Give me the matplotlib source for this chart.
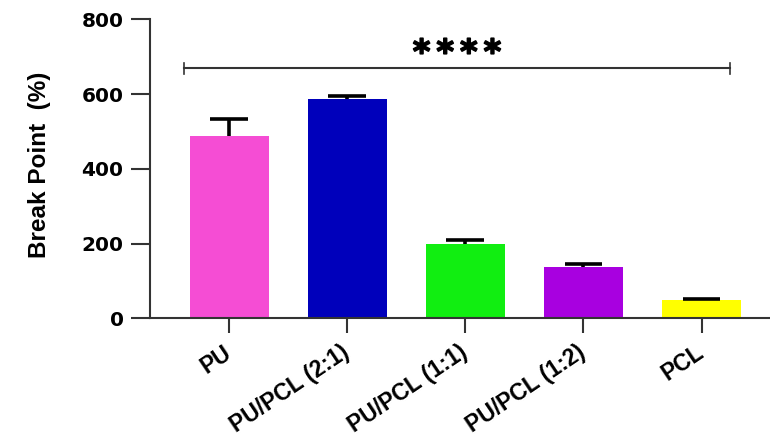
import matplotlib.pyplot as plt
import matplotlib.patheffects as pe

# data
groups = ['PU', 'PU/PCL (2:1)', 'PU/PCL (1:1)', 'PU/PCL (1:2)', 'PCL']
break_point = [488, 587, 199, 138, 49]
sd_upper = [46, 9, 11, 8, 4]
bar_colors = ['#F54DD4', '#0000BB', '#11EE11', '#A800E0', '#FFFF00']
y_ticks = [0, 200, 400, 600, 800]
sig_label = '****'
sig_level = 669

plt.rcParams['font.family'] = ['Liberation Sans', 'DejaVu Sans']

fig = plt.figure(figsize=(7.7, 4.44), dpi=100)
ax = fig.add_axes([150 / 770, 1 - 318.5 / 444, 1 - 150 / 770, 299 / 444])

x = list(range(len(groups)))
bar_w = 0.67
ax.bar(x, break_point, width=bar_w, color=bar_colors, zorder=2)

# upper-only error bars (T shape)
tops = [v + e for v, e in zip(break_point, sd_upper)]
cap = 0.32
ax.vlines(x, break_point, tops, colors='black', lw=2.6, zorder=3)
ax.hlines(tops, [xi - cap / 2 for xi in x], [xi + cap / 2 for xi in x],
          colors='black', lw=2.6, zorder=3)

# significance bracket
x0, x1 = -0.38, 4.24
ax.plot([x0, x1], [sig_level, sig_level], color='#333333', lw=1.5, clip_on=False)
for xe in (x0, x1):
    ax.plot([xe, xe], [sig_level - 14, sig_level + 14], color='#333333', lw=1.2, clip_on=False)
# stars spaced out a bit wider than the font would put them
n = len(sig_label)
for i, ch in enumerate(sig_label):
    ax.annotate(ch, xy=((x0 + x1) / 2, sig_level + 40),
                xytext=((i - (n - 1) / 2) * 17, 0), textcoords='offset points',
                ha='center', va='center', fontsize=24, fontweight='bold',
                family='DejaVu Sans',
                path_effects=[pe.withStroke(linewidth=1.2, foreground='black')])

ax.set_xlim(-0.67, 4.58)
ax.set_ylim(0, 800)
ax.set_yticks(y_ticks)
ax.set_xticks(x)
ax.set_xticklabels(groups, rotation=34, ha='right', va='center', rotation_mode='anchor',
                   fontsize=16.5, fontweight='bold')
for lbl in ax.get_yticklabels():
    lbl.set_fontweight('bold')
    lbl.set_fontsize(14.5)
    lbl.set_family('DejaVu Sans')
ax.set_ylabel('Break Point  (%)', fontsize=17.5, fontweight='bold')
ax.yaxis.set_label_coords(-0.16, 0.515)

for side in ('top', 'right'):
    ax.spines[side].set_visible(False)
for side in ('left', 'bottom'):
    ax.spines[side].set_linewidth(1.5)
    ax.spines[side].set_color('#333333')
ax.tick_params(axis='y', length=14, width=1.5, color='#333333', pad=5)
ax.tick_params(axis='x', length=11, width=1.5, color='#333333', pad=12)

fig.savefig('out.png', dpi=100)
